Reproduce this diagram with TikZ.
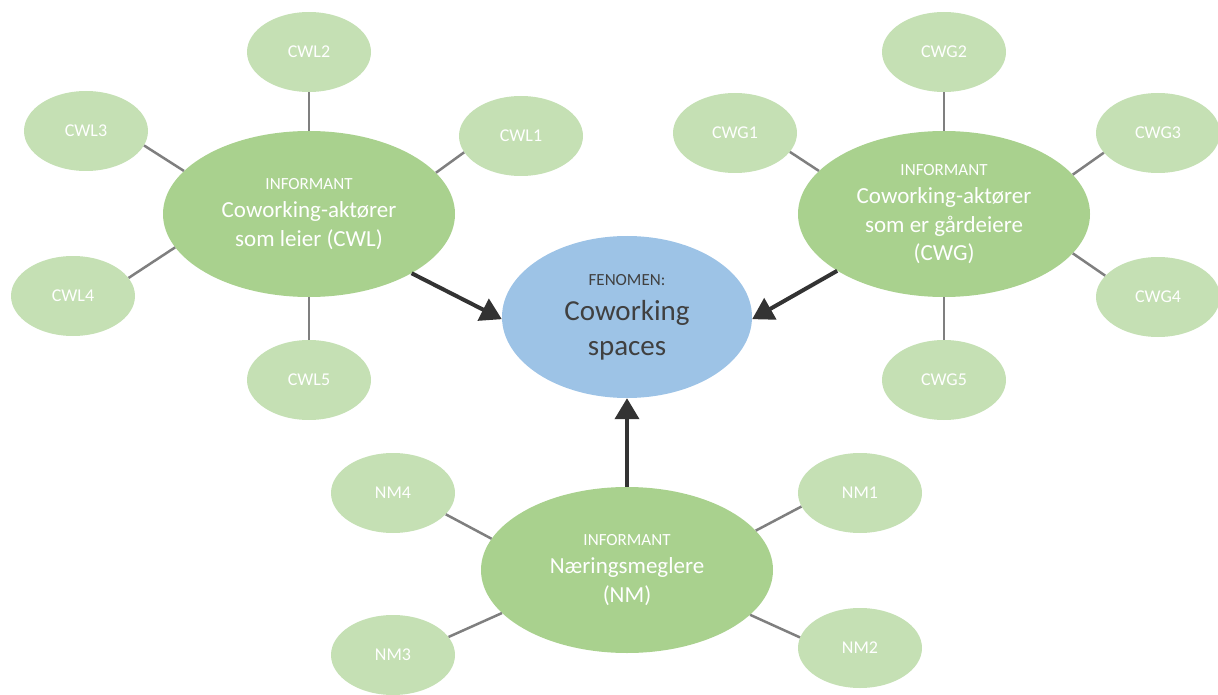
\documentclass[tikz,border=0pt]{standalone}
\usepackage{fontspec}
\setmainfont{Carlito}
\usetikzlibrary{shapes.geometric,arrows.meta}

\definecolor{leafgreen}{HTML}{C5E0B4}
\definecolor{hubgreen}{HTML}{A9D18E}
\definecolor{corebl}{HTML}{9DC3E6}
\definecolor{linkgray}{HTML}{7F7F7F}
\definecolor{arrowdark}{HTML}{333333}
\definecolor{coretext}{HTML}{404040}

\tikzset{
  leaf/.style={ellipse, fill=leafgreen, draw=none, inner sep=0pt,
    minimum width=124pt, minimum height=80pt, text=white,
    font=\fontsize{18}{22}\selectfont},
  hub/.style={ellipse, fill=hubgreen, draw=none, inner sep=0pt,
    minimum width=292pt, minimum height=166pt, text=white, align=center,
    font=\fontsize{23}{28.5}\selectfont},
  core/.style={ellipse, fill=corebl, draw=none, inner sep=0pt,
    minimum width=250pt, minimum height=162pt, text=coretext, align=center,
    font=\fontsize{29}{35}\selectfont},
  link/.style={draw=linkgray, line width=2.5pt},
  flow/.style={draw=arrowdark, line width=4pt,
    -{Triangle[length=21pt,width=24pt]}},
}
\newcommand{\smalltag}[1]{{\fontsize{17}{21}\selectfont #1}}

\begin{document}
\begin{tikzpicture}[x=1pt,y=-1pt]
\useasboundingbox (0,0) rectangle (1218,695);

% central phenomenon
\node[core] (fen) at (627,317)
  {{\fontsize{17}{32}\selectfont FENOMEN:}\\Coworking\\spaces};

% informant groups
\node[hub] (cwl) at (309,214)
  {\smalltag{INFORMANT}\\Coworking-aktører\\som leier (CWL)};
\node[hub] (cwg) at (944,214)
  {\smalltag{INFORMANT}\\Coworking-aktører\\som er gårdeiere\\(CWG)};
\node[hub] (nm) at (627,570)
  {\smalltag{INFORMANT}\\Næringsmeglere\\(NM)};

% individual informants
\node[leaf] (cwl1) at (521,136) {CWL1};
\node[leaf] (cwl2) at (309,52)  {CWL2};
\node[leaf] (cwl3) at (86,131)  {CWL3};
\node[leaf] (cwl4) at (73,296)  {CWL4};
\node[leaf] (cwl5) at (309,380) {CWL5};

\node[leaf] (cwg1) at (735,133)  {CWG1};
\node[leaf] (cwg2) at (944,52)   {CWG2};
\node[leaf] (cwg3) at (1158,133) {CWG3};
\node[leaf] (cwg4) at (1158,297) {CWG4};
\node[leaf] (cwg5) at (944,380)  {CWG5};

\node[leaf] (nm1) at (860,493) {NM1};
\node[leaf] (nm2) at (860,648) {NM2};
\node[leaf] (nm3) at (393,655) {NM3};
\node[leaf] (nm4) at (393,493) {NM4};

% spokes
\draw[link] (cwl.north) -- (cwl2.south);
\draw[link] (cwl.south) -- (cwl5.north);
\draw[link] (cwl.18.4) -- (cwl1.196.6);
\draw[link] (cwl.161.7) -- (cwl3.-14.7);
\draw[link] (cwl.-166) -- (cwl4.18.4);

\draw[link] (cwg.north) -- (cwg2.south);
\draw[link] (cwg.south) -- (cwg5.north);
\draw[link] (cwg.161.4) -- (cwg1.-19);
\draw[link] (cwg.17.8) -- (cwg3.200);
\draw[link] (cwg.-17) -- (cwg4.158);

\draw[link] (nm.167.8) -- (nm4.-22.7);
\draw[link] (nm.17.4) -- (nm1.193);
\draw[link] (nm.199) -- (nm3.18.7);
\draw[link] (nm.-20) -- (nm2.170);

% flows into the phenomenon
\draw[flow] (cwl.-30) -- (fen.181);
\draw[flow] (cwg.208) -- (fen.-1);
\draw[flow] (nm.north) -- (fen.south);
\end{tikzpicture}
\end{document}
